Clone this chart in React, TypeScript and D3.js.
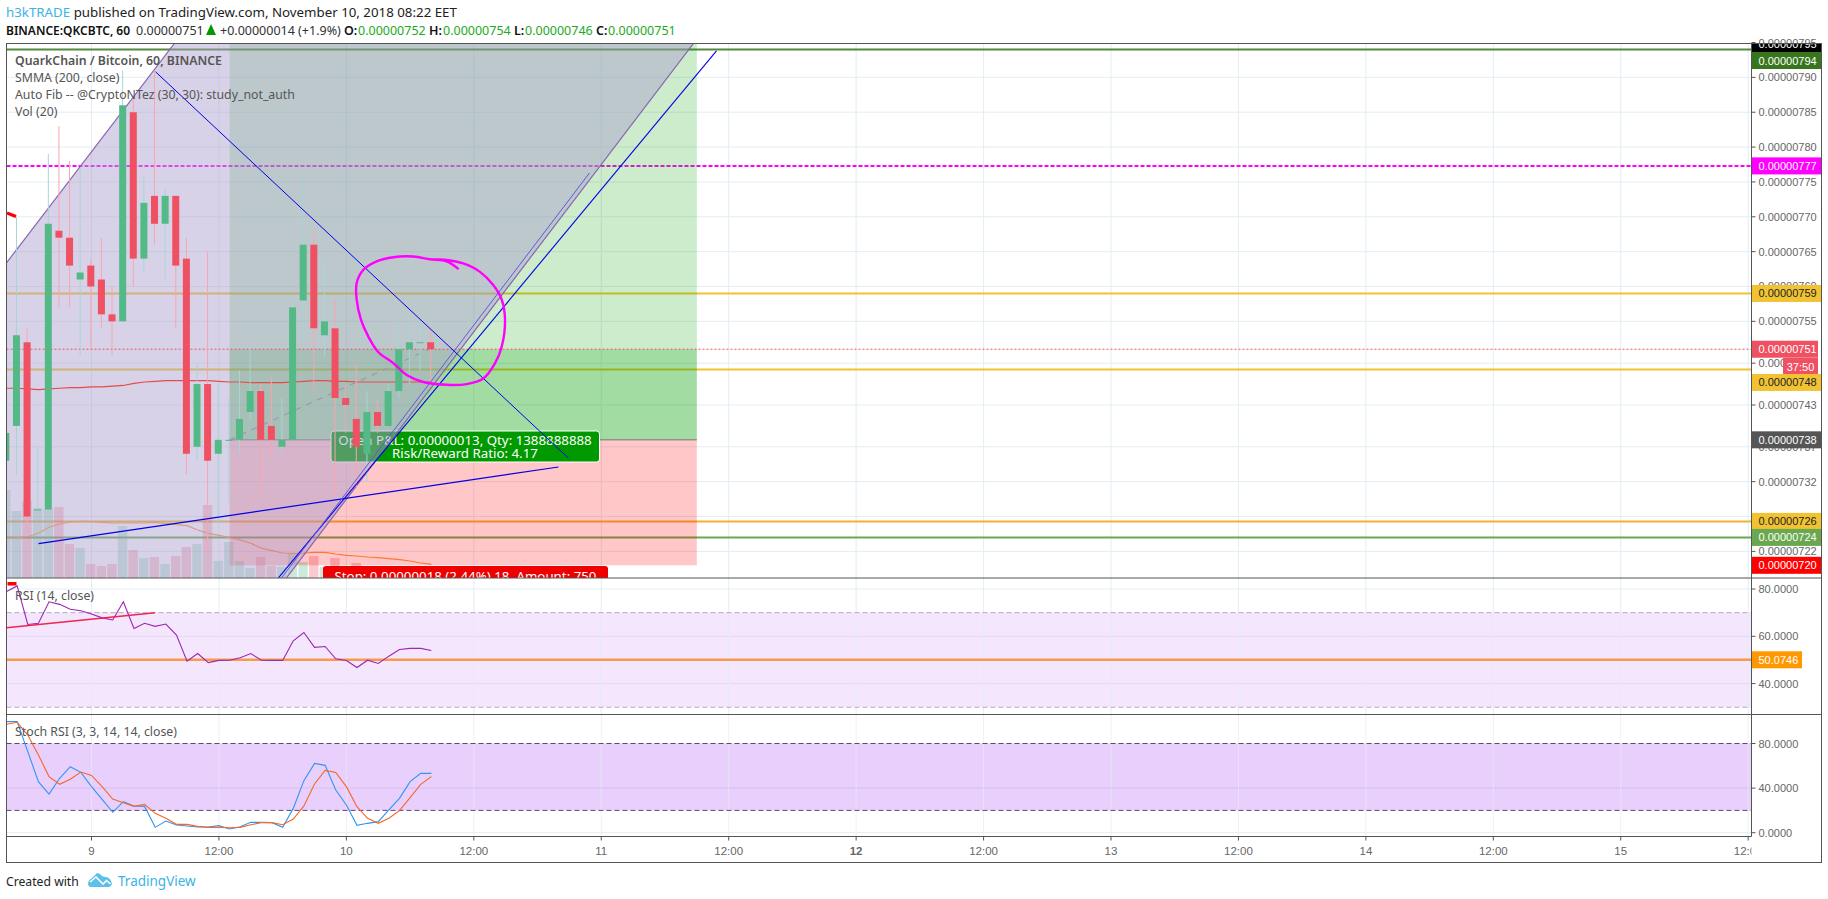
import React from "react";
import * as d3 from "d3";

// hours since Nov 9 00:00 for every candle (-8 ... 32)
const hours = d3.range(-8, 33);
const opens = [735,740,752,728,728,768,767,761,763,761,756,755,785,764,773,769,773,764,737,746,736,738,738,742,745,740,737,738,758,766,753,754,744,741,736,742,740,745,751,752,752];
const highs = [739,770,754,737,779,783,778,777,764,767,760,791,787,776,791,774,773,767,749,765,746,744,748,752,746,747,744,758,775,768,764,758,746,749,745,744,746,755,755,755,754];
const lows = [735,733,725,728,728,757,757,750,751,754,750,755,760,762,766,761,754,733,735,722,726,729,736,741,730,736,736,738,752,745,750,730,739,731,732,739,740,744,746,748,746];
const closes = [739,753,727,728,769,767,763,762,760,756,755,786,764,772,769,773,763,736,746,735,738,738,741,745,738,738,738,757,766,754,755,744,743,737,742,740,745,751,752,752,751];
const volumes = [88,67,77,70,69,71,34,30,14,12,14,52,28,20,21,14,22,31,34,73,17,36,17,10,21,12,11,24,16,22,11,20,10,15,10,9,8,9,7,8,6];
const volumeMA = [39.7,40.3,41.3,44.7,50.7,54,56,56.7,56.3,55.7,55,55,55,55,55.7,54.7,53.3,52.3,48,44.7,42.7,40.7,38,34.7,29.7,27.3,25,24.7,25,25.7,25.7,24,22.7,22,21,20.3,19.3,18.3,17,15,13.7];
const smma = [745.4,745.4,745.3,745.2,745.3,745.4,745.5,745.5,745.6,745.6,745.7,745.8,746.1,746.3,746.4,746.5,746.5,746.5,746.5,746.5,746.4,746.3,746.3,746.2,746.2,746.2,746.2,746.3,746.4,746.5,746.5,746.4,746.4,746.3,746.3,746.3,746.3,746.3,746.3,746.3,746.3];
const rsi = [78.9,81.3,65,65.5,74.6,73.5,71.4,70.8,69.4,67.8,66.9,74.6,63.3,65.5,64.2,65.2,60.5,49.5,52.7,48.9,49.8,49.9,50.9,52.7,49.9,49.8,49.8,58.1,61.6,55.3,55.7,50.5,49.8,46.8,49.9,48.5,51.6,54.4,54.9,54.9,54];
const stochK = [99.6,99.6,72.7,45.8,34.7,48.8,59.2,54.1,41.3,29.9,18.3,27.8,24,23.6,4.8,10.5,6.9,6,5.1,5.1,6.3,3.3,5.4,9.3,9.3,9,4.8,21.8,46.7,62.2,60.4,38.3,24.8,6.6,8.4,9.9,20.4,30.8,45.8,53.2,53.2];
const stochD = [97.2,99,87.6,69.7,50.3,43.4,47.9,54.4,51.4,41.3,30.2,26.9,23.6,25.4,17.4,12.9,7.5,7.5,5.7,4.8,4.8,4.5,4.8,7.2,9,9,7.2,12.3,24,43.7,55.9,54.1,41.3,23.3,12.9,8.4,12.9,19.8,31.4,43.4,50.3];

const priceTicks = [795,790,785,780,775,770,765,760,755,749,743,737,732,727,722];
const rsiTicks = [80,60,40];
const stochTicks = [80,40,0];
const timeTicks = [
  { h: 0, label: "9" }, { h: 12, label: "12:00" }, { h: 24, label: "10" }, { h: 36, label: "12:00" },
  { h: 48, label: "11" }, { h: 60, label: "12:00" }, { h: 72, label: "12", bold: true }, { h: 84, label: "12:00" },
  { h: 96, label: "13" }, { h: 108, label: "12:00" }, { h: 120, label: "14" }, { h: 132, label: "12:00" },
  { h: 144, label: "15" }, { h: 156, label: "12:00" },
];

// annotations, as [hour, price]
const blueThin: [number, number][] = [[6.03, 790.8], [44.9, 735.4]];
const blueRise: [number, number][] = [[-4.99, 723.1], [43.97, 734.1]];
const blueSteep: [number, number][] = [[58.85, 793.8], [17.6, 718.2]];
const violetLine: [number, number][] = [[46.9, 776.3], [17.9, 718.2]];
const channelZone: [number, number][] = [[-8.5, 762.4], [7.82, 794.9], [56.7, 794.9], [18.36, 718.2], [-8.5, 718.2]];
const circleStroke: [number, number][] = [[34.57,762.5],[33.44,763.6],[31.87,763.9],[30.3,764.3],[28.42,764.2],[26.85,763.6],[25.6,762.4],[24.97,760.5],[24.97,758.1],[25.38,755.2],[26.07,752.8],[27,750.6],[28.42,749],[29.68,747.3],[31.24,746.3],[33.44,745.9],[35.33,746],[36.9,746.8],[38,749],[38.63,751.4],[38.94,755.2],[38.63,758.1],[37.83,760.2],[36.58,762.1],[35,763.3],[33.44,763.8],[31.87,763.9]];

const FONT = "'Noto Sans', sans-serif";
const AXFONT = "'Liberation Sans', Arial, sans-serif";
const GRID = "#e3edf3";
const BORDER = "#555";
const UP = "#53b987";
const DOWN = "#ef5062";

const L = 6.5, AX = 1751.5, R = 1821.5, T = 43.5, M1 = 578, M2 = 714.5, B = 836.5, BB = 862.5;

const x = d3.scaleLinear().domain([0, 156]).range([91.5, 1748.2]);
const y = d3.scaleLinear().domain([794, 720]).range([49.5, 565.3]);
const yRsi = d3.scaleLinear().domain([80, 40]).range([589, 683.6]);
const yStoch = d3.scaleLinear().domain([80, 0]).range([743.5, 832.7]);
const yVol = d3.scaleLinear().domain([0, 100]).range([M1, M1 - 100]);

const P = (pts: [number, number][]) => pts.map(([h, p]) => [x(h), y(p)] as [number, number]);
const lineXY = d3.line();

function PriceLabel({ cy, text, bg, fg = "#fff", right = R, left = AX, h = 17 }: any) {
  return (
    <g>
      <rect x={left} y={cy - h / 2} width={right - left} height={h} fill={bg} />
      <text x={left + 7} y={cy + 4} fontSize={11} fontWeight={500} fontFamily={AXFONT} fill={fg}>{text}</text>
    </g>
  );
}

export default function App() {
  const up = (i: number) => closes[i] >= opens[i];
  const bodyW = 7;
  return (
    <svg width={1828} height={899} style={{ position: "fixed", left: 0, top: 0, background: "#fff" }}>
      <defs>
        <clipPath id="main"><rect x={L} y={T} width={AX - L} height={M1 - T} /></clipPath>
        <clipPath id="rsi"><rect x={L} y={M1} width={AX - L} height={M2 - M1} /></clipPath>
        <clipPath id="stoch"><rect x={L} y={M2} width={AX - L} height={B - M2} /></clipPath>
        <clipPath id="time"><rect x={L} y={B} width={AX - L} height={BB - B} /></clipPath>
        <clipPath id="ptop"><rect x={AX} y={T} width={R - AX} height={M1 - T} /></clipPath>
      </defs>

      {/* header */}
      <text x={6} y={16.5} fontSize={13.3} fontFamily={FONT} fill="#222">
        <tspan fill="#3bb3e4">h3kTRADE</tspan> published on TradingView.com, November 10, 2018 08:22 EET
      </text>
      <g fontFamily={FONT} fontSize={12.5}>
        <text x={6} y={34.5} fontWeight={600} fontSize={12} fill="#111">BINANCE:QKCBTC, 60</text>
        <text x={136} y={34.5} fill="#333">0.00000751</text>
        <path d={d3.line()([[206, 35], [211, 24], [216, 35], [206, 35]])!} fill="#009900" />
        <text x={220} y={34.5} fill="#333">+0.00000014 (+1.9%)</text>
        <text x={344} y={34.5} fontWeight={600} fill="#111">O:</text>
        <text x={358} y={34.5} fill="#22aa22">0.00000752</text>
        <text x={429} y={34.5} fontWeight={600} fill="#111">H:</text>
        <text x={443} y={34.5} fill="#22aa22">0.00000754</text>
        <text x={514} y={34.5} fontWeight={600} fill="#111">L:</text>
        <text x={525} y={34.5} fill="#22aa22">0.00000746</text>
        <text x={596} y={34.5} fontWeight={600} fill="#111">C:</text>
        <text x={608} y={34.5} fill="#22aa22">0.00000751</text>
      </g>

      {/* main pane */}
      <g clipPath="url(#main)">
        {priceTicks.map((t) => <line key={t} x1={L} x2={AX} y1={y(t)} y2={y(t)} stroke={GRID} />)}
        {timeTicks.map((t) => <line key={t.h} x1={x(t.h)} x2={x(t.h)} y1={T} y2={M1} stroke={GRID} />)}

        <line x1={L} x2={AX} y1={y(794)} y2={y(794)} stroke="#38761d" strokeWidth={2} opacity={0.85} />
        <line x1={L} x2={AX} y1={y(777.3)} y2={y(777.3)} stroke="#ff00ff" strokeWidth={2} strokeDasharray="4 2" />
        <line x1={L} x2={AX} y1={y(759)} y2={y(759)} stroke="#f1c232" strokeWidth={2} />
        <line x1={L} x2={AX} y1={y(748.1)} y2={y(748.1)} stroke="#f1c232" strokeWidth={2} />
        <line x1={L} x2={AX} y1={y(726.3)} y2={y(726.3)} stroke="#f1b232" strokeWidth={2} />
        <line x1={L} x2={AX} y1={y(724)} y2={y(724)} stroke="#6aa84f" strokeWidth={2} />

        {/* volume */}
        {hours.map((h, i) => (
          <rect key={h} x={x(h) - 5.5} width={9.4} y={yVol(volumes[i])} height={M1 - yVol(volumes[i])}
            fill={up(i) ? "rgba(83,185,135,0.3)" : "rgba(239,80,98,0.3)"} />
        ))}
        <path d={d3.line<number>().x((_, i) => x(hours[i])).y((v) => yVol(v))(volumeMA)!} fill="none" stroke="#ff9a40" strokeWidth={1.2} />

        {/* long position tool */}
        <rect x={x(13)} width={x(57) - x(13)} y={T} height={y(738) - T} fill="rgba(0,160,0,0.2)" />
        <rect x={x(13)} width={x(57) - x(13)} y={y(751)} height={y(738) - y(751)} fill="rgba(0,160,0,0.2)" />
        <rect x={x(13)} width={x(57) - x(13)} y={y(738)} height={y(720) - y(738)} fill="rgba(255,0,0,0.22)" />
        <line x1={x(13)} x2={x(57)} y1={y(738)} y2={y(738)} stroke="#777" />
        <path d={lineXY(P([[13, 738], [31.8, 751]]))!} fill="none" stroke="#8f8fa0" strokeWidth={1.2} strokeDasharray="6 6" />
        <rect x={331} y={431} width={268.5} height={31} rx={3} fill="#009900" stroke="#fff" />
        <text x={465} y={445} textAnchor="middle" fontFamily={FONT} fontSize={13.3} fill="#fff">Open P&amp;L: 0.00000013, Qty: 1388888888</text>
        <text x={465} y={458} textAnchor="middle" fontFamily={FONT} fontSize={13.3} fill="#fff">Risk/Reward Ratio: 4.17</text>
        <rect x={323} y={566} width={285} height={24} rx={3} fill="#ee0000" />
        <text x={465.5} y={581} textAnchor="middle" fontFamily={FONT} fontSize={13.3} fill="#fff">Stop: 0.00000018 (2.44%) 18, Amount: 750</text>

        {/* channel */}
        <path d={lineXY(P(channelZone))! + "Z"} fill="rgba(172,160,206,0.47)" />
        <path d={lineXY(P(channelZone.slice(0, 2)))!} stroke="#8a62b0" fill="none" strokeWidth={1.2} />
        <path d={lineXY(P(channelZone.slice(2, 4)))!} stroke="#8a62b0" fill="none" strokeWidth={1.2} />

        <line x1={L} x2={AX} y1={y(751)} y2={y(751)} stroke="#ef5062" strokeDasharray="2 2" />
        <path d={d3.line<number>().x((_, i) => x(hours[i])).y((v) => y(v))(smma)!} fill="none" stroke="#e84a4a" strokeWidth={1.2} />

        {/* candles */}
        {hours.map((h, i) => (
          <line key={h} x1={x(h) - 0.7} x2={x(h) - 0.7} y1={y(highs[i])} y2={y(lows[i])}
            stroke={up(i) ? "#a5d6d6" : "#f9a5ae"} />
        ))}
        {hours.map((h, i) => {
          const a = y(Math.max(opens[i], closes[i]));
          const b = y(Math.min(opens[i], closes[i]));
          return <rect key={h} x={x(h) - 0.7 - bodyW / 2} width={bodyW} y={a} height={Math.max(1, b - a)} fill={up(i) ? UP : DOWN} />;
        })}

        <path d={lineXY(P(blueThin))!} stroke="#0000e6" fill="none" strokeWidth={1} />
        <path d={lineXY(P(blueRise))!} stroke="#0000e6" fill="none" strokeWidth={1.2} />
        <path d={lineXY(P(blueSteep))!} stroke="#0000e6" fill="none" strokeWidth={1.1} />
        <path d={lineXY(P(violetLine))!} stroke="#5a5ae0" fill="none" strokeWidth={1} />
        <path d={d3.line().curve(d3.curveCatmullRom)(P(circleStroke))!} stroke="#ff00ff" fill="none" strokeWidth={2.4} />
        <line x1={7} y1={213} x2={16} y2={216.5} stroke="#ff0000" strokeWidth={3} />
      </g>

      {/* rsi pane */}
      <g clipPath="url(#rsi)">
        <rect x={L} width={AX - L} y={yRsi(70)} height={yRsi(30) - yRsi(70)} fill="#f4e6fd" />
        {rsiTicks.map((t) => <line key={t} x1={L} x2={AX} y1={yRsi(t)} y2={yRsi(t)} stroke={t === 80 ? GRID : "#e3d8f2"} />)}
        {timeTicks.map((t) => <line key={t.h} x1={x(t.h)} x2={x(t.h)} y1={M1} y2={M2} stroke={GRID} />)}
        <line x1={L} x2={AX} y1={yRsi(70)} y2={yRsi(70)} stroke="#b9a9c4" strokeDasharray="5 3" />
        <line x1={L} x2={AX} y1={yRsi(30)} y2={yRsi(30)} stroke="#b9a9c4" strokeDasharray="5 3" />
        <line x1={L} x2={AX} y1={yRsi(50.07)} y2={yRsi(50.07)} stroke="#f79a4a" strokeWidth={2.4} />
        <path d={d3.line<number>().x((_, i) => x(hours[i])).y((v) => yRsi(v))(rsi)!} fill="none" stroke="#9c27b0" strokeWidth={1.1} />
        <line x1={L} y1={627.7} x2={155} y2={612.7} stroke="#f0244f" strokeWidth={1.4} />
        <rect x={7.5} y={582} width={9} height={3.5} fill="#ff0000" />
      </g>

      {/* stoch pane */}
      <g clipPath="url(#stoch)">
        <rect x={L} width={AX - L} y={yStoch(80)} height={yStoch(20) - yStoch(80)} fill="#e9cffc" />
        {stochTicks.map((t) => <line key={t} x1={L} x2={AX} y1={yStoch(t)} y2={yStoch(t)} stroke={t === 40 ? "#d6bff0" : GRID} />)}
        {timeTicks.map((t) => <line key={t.h} x1={x(t.h)} x2={x(t.h)} y1={M2} y2={B} stroke={GRID} opacity={0.7} />)}
        <line x1={L} x2={AX} y1={yStoch(80)} y2={yStoch(80)} stroke="#5b4a68" strokeDasharray="5 3" />
        <line x1={L} x2={AX} y1={yStoch(20)} y2={yStoch(20)} stroke="#5b4a68" strokeDasharray="5 3" />
        <path d={d3.line<number>().x((_, i) => x(hours[i])).y((v) => yStoch(v))(stochK)!} fill="none" stroke="#2f96f3" strokeWidth={1.1} />
        <path d={d3.line<number>().x((_, i) => x(hours[i])).y((v) => yStoch(v))(stochD)!} fill="none" stroke="#f4682a" strokeWidth={1.1} />
      </g>

      {/* legends */}
      <g fontFamily={FONT} fontSize={12.3} fill="#555">
        <text x={15} y={65} fontWeight={600}>QuarkChain / Bitcoin, 60, BINANCE</text>
        <text x={15} y={82}>SMMA (200, close)</text>
        <text x={15} y={99}>Auto Fib -- @CryptoNTez (30, 30): study_not_auth</text>
        <text x={15} y={116}>Vol (20)</text>
        <text x={15} y={600}>RSI (14, close)</text>
        <text x={15} y={736}>Stoch RSI (3, 3, 14, 14, close)</text>
      </g>

      {/* price axes */}
      <g fontFamily={AXFONT} fontSize={11} fill="#666">
        {priceTicks.map((t) => (
          <g key={t}>
            <line x1={AX} x2={AX + 4} y1={y(t)} y2={y(t)} stroke="#555" />
            <text x={AX + 7} y={y(t) + 4}>{(t / 1e8).toFixed(8)}</text>
          </g>
        ))}
        {rsiTicks.map((t) => (
          <g key={t}>
            <line x1={AX} x2={AX + 4} y1={yRsi(t)} y2={yRsi(t)} stroke="#555" />
            <text x={AX + 7} y={yRsi(t) + 4}>{t.toFixed(4)}</text>
          </g>
        ))}
        {stochTicks.map((t) => (
          <g key={t}>
            <line x1={AX} x2={AX + 4} y1={yStoch(t)} y2={yStoch(t)} stroke="#555" />
            <text x={AX + 7} y={yStoch(t) + 4}>{t.toFixed(4)}</text>
          </g>
        ))}
      </g>
      <g clipPath="url(#ptop)">
        <PriceLabel cy={43.5} text="0.00000795" bg="#000" />
        <PriceLabel cy={y(794) + 11} text="0.00000794" bg="#38761d" />
        <PriceLabel cy={y(777.3)} text="0.00000777" bg="#ff00ff" />
        <PriceLabel cy={y(759)} text="0.00000759" bg="#f1c232" fg="#222" />
        <PriceLabel cy={y(751)} text="0.00000751" bg={DOWN} right={1818} />
        <rect x={1783} y={358} width={35} height={17} fill={DOWN} />
        <text x={1800.5} y={370.5} textAnchor="middle" fontFamily={AXFONT} fontSize={11} fill="#fff">37:50</text>
        <PriceLabel cy={y(748.1) + 13} text="0.00000748" bg="#f1c232" fg="#222" />
        <PriceLabel cy={y(738)} text="0.00000738" bg="#555" />
        <PriceLabel cy={y(726.3)} text="0.00000726" bg="#f1c232" fg="#222" />
        <PriceLabel cy={y(724)} text="0.00000724" bg="#6aa84f" />
        <PriceLabel cy={y(720)} text="0.00000720" bg="#ff0000" />
      </g>
      <PriceLabel cy={yRsi(50.07)} text="50.0746" bg="#ff9800" right={1802} />

      {/* time axis */}
      <g clipPath="url(#time)" fontFamily={AXFONT} fontSize={11.5} fill="#666">
        {timeTicks.map((t) => (
          <g key={t.h}>
            <line x1={x(t.h)} x2={x(t.h)} y1={B} y2={B + 4} stroke="#555" />
            <text x={x(t.h)} y={855} textAnchor="middle" fontWeight={t.bold ? 700 : 400}>{t.label}</text>
          </g>
        ))}
      </g>

      {/* frame */}
      <g fill="none" stroke={BORDER}>
        <rect x={L} y={T} width={R - L} height={BB - T} />
        <line x1={L} x2={R} y1={M1} y2={M1} />
        <line x1={L} x2={R} y1={M2} y2={M2} />
        <line x1={L} x2={AX} y1={B} y2={B} />
        <line x1={AX} x2={AX} y1={T} y2={B} />
      </g>

      {/* footer */}
      <text x={6} y={886} fontFamily={FONT} fontSize={12.2} fill="#222">Created with</text>
      <path d="M88 884 q0 -4 4 -6 l5 -5 q3 0 5 3 q2 1 4 1 q5 1 6 7 q-1 3 -3 3 h-19 q-2 -1 -2 -3 z" fill="#5cc0e8" />
      <path d="M90 882 l6 -5 l7 7 l3.5 -3.5 l4 3.5" fill="none" stroke="#fff" strokeWidth={1.6} />
      <text x={118} y={886} fontFamily={FONT} fontSize={13.5} fill="#3bb3e4">TradingView</text>
    </svg>
  );
}
